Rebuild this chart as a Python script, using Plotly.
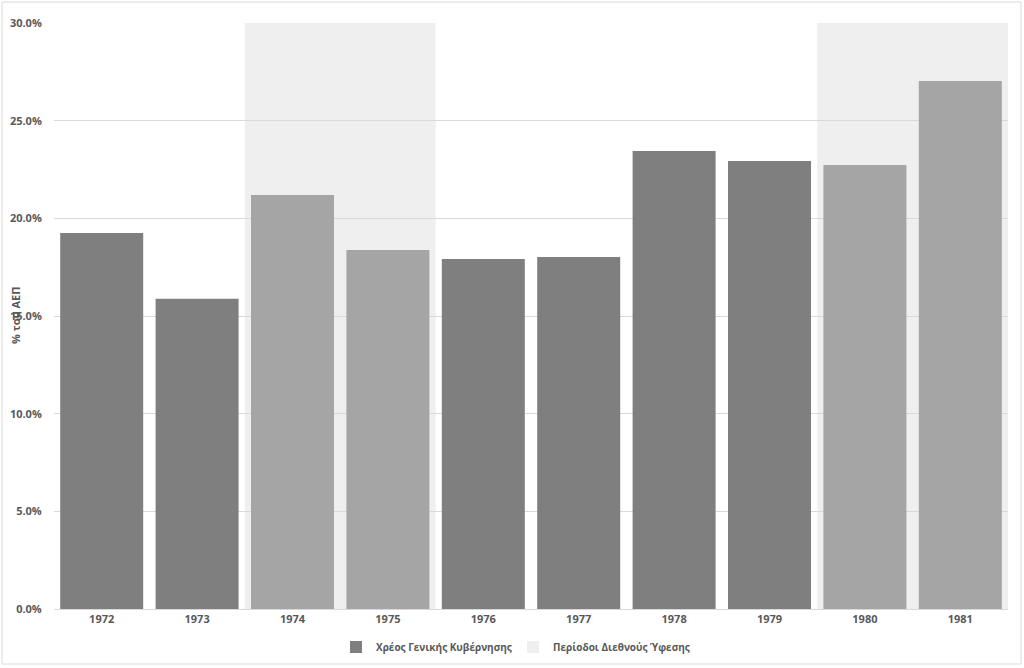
import plotly.graph_objects as go

years = ["1972", "1973", "1974", "1975", "1976", "1977", "1978", "1979", "1980", "1981"]
debt = [19.25, 15.88, 21.2, 18.38, 17.92, 18.02, 23.45, 22.94, 22.73, 27.03]
recession_years = ["1974", "1975", "1980", "1981"]
y_ticks = [0, 5, 10, 15, 20, 25, 30]
y_tick_labels = ["0.0%", "5.0%", "10.0%", "15.0%", "20.0%", "25.0%", "30.0%"]

DARK = "#7F7F7F"
LIGHT = "#A5A5A5"
SHADE = "#EFEFEF"
GRID = "#D9D9D9"
TXT = "#595959"
FONT = "Open Sans"

bar_colors = [LIGHT if y in recession_years else DARK for y in years]

fig = go.Figure()
fig.add_trace(go.Bar(
    x=years, y=debt, name="Χρέος Γενικής Κυβέρνησης",
    marker=dict(color=bar_colors, line=dict(width=0)),
    width=0.87, hoverinfo="skip",
))
fig.add_trace(go.Bar(
    x=recession_years, y=[0] * len(recession_years), name="Περίοδοι Διεθνούς Ύφεσης",
    marker=dict(color=SHADE, line=dict(width=0)),
    width=1, hoverinfo="skip",
))

# merge contiguous recession years into shaded bands
idx = sorted(years.index(r) for r in recession_years)
runs = []
for i in idx:
    if runs and i == runs[-1][1] + 1:
        runs[-1][1] = i
    else:
        runs.append([i, i])

shapes = []
for a, b in runs:
    shapes.append(dict(type="rect", xref="x", yref="y", x0=a - 0.5, x1=b + 0.5,
                       y0=0, y1=y_ticks[-1], fillcolor=SHADE, line=dict(width=0),
                       layer="below"))

W, H = 1024, 668
L, R, T, B = 54, 1008, 23, 609
pw, ph = R - L, B - T
shapes.append(dict(type="rect", xref="paper", yref="paper",
                   x0=(2 - L) / pw, x1=(1021 - L) / pw,
                   y0=(B - 664) / ph, y1=(B - 2) / ph,
                   line=dict(color=GRID, width=1), fillcolor="rgba(0,0,0,0)", layer="below"))

fig.update_layout(
    width=W, height=H,
    margin=dict(l=L, r=W - R, t=T, b=H - B, autoexpand=False),
    paper_bgcolor="white", plot_bgcolor="white",
    barmode="overlay",
    font=dict(family=FONT, color=TXT, size=11),
    shapes=shapes,
    showlegend=True,
    legend=dict(orientation="h", x=0.5 - 18 / pw, xanchor="center", y=(B - 647) / ph, yanchor="middle",
                font=dict(family=FONT, size=10, color=TXT, weight="bold"),
                bgcolor="rgba(0,0,0,0)", itemwidth=30, traceorder="normal",
                entrywidth=132, entrywidthmode="pixels"),
    xaxis=dict(type="category", categoryorder="array", categoryarray=years,
               range=[-0.5, len(years) - 0.5],
               showgrid=False, showline=True, linecolor=GRID, linewidth=1,
               ticks="", tickfont=dict(family=FONT, size=11, color=TXT, weight="bold"),
               fixedrange=True),
    yaxis=dict(range=[0, y_ticks[-1]], tickvals=y_ticks, ticktext=y_tick_labels,
               showgrid=True, gridcolor=GRID, gridwidth=1, zeroline=False,
               showline=False, ticks="outside", ticklen=9, tickcolor="rgba(0,0,0,0)",
               tickfont=dict(family=FONT, size=11, color=TXT, weight="bold"),
               fixedrange=True),
    annotations=[dict(text="% του ΑΕΠ", xref="paper", yref="paper", x=0, y=0.5,
                      xshift=15 - L, textangle=-90, showarrow=False,
                      xanchor="center", yanchor="middle",
                      font=dict(family=FONT, size=11, color=TXT, weight="bold"))],
)

fig.write_html("out.html", config={"displayModeBar": False},
               post_script="document.body.style.margin='0';document.body.style.overflow='hidden';")
